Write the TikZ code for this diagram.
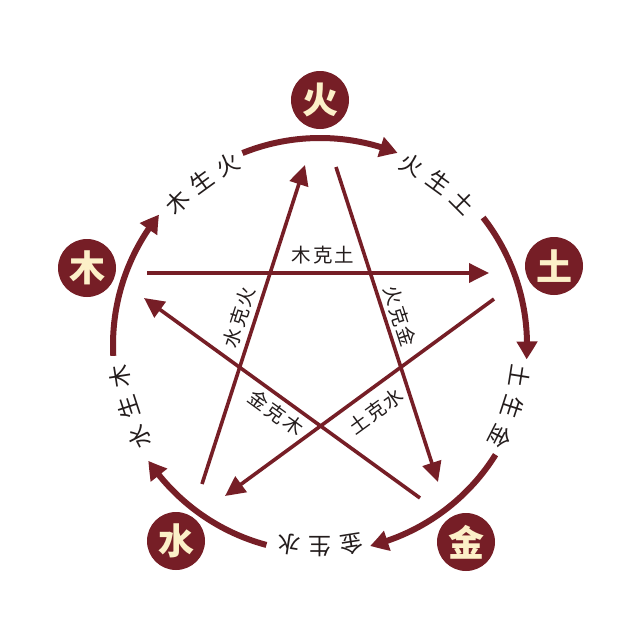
\documentclass[tikz,border=0pt]{standalone}
\usepackage{fontspec}
\newfontfamily\cjk{Noto Sans CJK SC}
\usetikzlibrary{arrows.meta,bending}
\definecolor{wxred}{RGB}{118,30,38}
\definecolor{wxcream}{RGB}{252,240,200}
\definecolor{wxtext}{RGB}{35,28,28}
\begin{document}
\begin{tikzpicture}[x=1pt,y=1pt,
  elem/.style={circle,fill=wxred,text=wxcream,minimum size=58pt,inner sep=0pt,font=\cjk\bfseries\fontsize{36}{36}\selectfont},
  ring/.style={draw=wxred,line width=6pt,-{Triangle[length=18pt,width=20pt,bend]}},
  ke/.style={draw=wxred,line width=3.6pt,-{Triangle[length=20pt,width=19pt]}},
  ringlab/.style={text=wxtext,inner sep=0pt,font=\cjk\fontsize{23}{23}\selectfont},
  kelab/.style={text=wxtext,inner sep=0pt,font=\cjk\fontsize{19.5}{19.5}\selectfont}]
\useasboundingbox (0,0) rectangle (640,-621);
\fill[white] (0,0) rectangle (640,-621);
\coordinate (O) at (320,-345);
% elements
\node[elem] (huo) at (320,-100) {火};
\node[elem] (mu) at (87,-268) {木};
\node[elem] (tu) at (554,-266) {土};
\node[elem] (shui) at (176,-541) {水};
\node[elem] (jin) at (466,-542) {金};
% ring arcs
\draw[ring] ([shift={(112:207)}]O) arc[start angle=112,end angle=68,radius=207pt];
\draw[ring] ([shift={(38:207)}]O) arc[start angle=38,end angle=-4,radius=207pt];
\draw[ring] ([shift={(-32:207)}]O) arc[start angle=-32,end angle=-76,radius=207pt];
\draw[ring] ([shift={(-105:207)}]O) arc[start angle=-105,end angle=-146,radius=207pt];
\draw[ring] ([shift={(183:207)}]O) arc[start angle=183,end angle=141,radius=207pt];
% ring labels
\foreach \a/\c/\n in {135/木/ra1,126/生/ra2,117/火/ra3,
                      63/火/rb1,54/生/rb2,45/土/rb3,
                      -9/土/rc1,-18/生/rc2,-27/金/rc3,
                      -81/金/rd1,-90/生/rd2,-99/水/rd3,
                      207/水/re1,198/生/re2,189/木/re3}
  \node[ringlab,rotate=\a-90] (\n) at ([shift={(\a:202)}]O) {\c};
% star (ke) arrows
\coordinate (k1s) at (202,-484); \coordinate (k1e) at (305,-165);
\coordinate (k2s) at (336,-167); \coordinate (k2e) at (438,-482);
\coordinate (k3s) at (147,-273); \coordinate (k3e) at (489,-273);
\coordinate (k4s) at (494,-299); \coordinate (k4e) at (225,-496);
\coordinate (k5s) at (420,-498); \coordinate (k5e) at (144,-298);
\draw[ke] (k1s) -- (k1e);
\draw[ke] (k2s) -- (k2e);
\draw[ke] (k3s) -- (k3e);
\draw[ke] (k4s) -- (k4e);
\draw[ke] (k5s) -- (k5e);
% ke labels
\node[kelab] (l3) at (323,-255) {木\kern2pt 克\kern2pt 土};
\node[kelab,rotate=72] (l1) at (239,-317) {水\kern2pt 克\kern2pt 火};
\node[kelab,rotate=-72] (l2) at (400,-316) {火\kern2pt 克\kern2pt 金};
\node[kelab,rotate=-36] (l5) at (276,-413) {金\kern2pt 克\kern2pt 木};
\node[kelab,rotate=36] (l4) at (376,-411) {土\kern2pt 克\kern2pt 水};
\end{tikzpicture}
\end{document}
